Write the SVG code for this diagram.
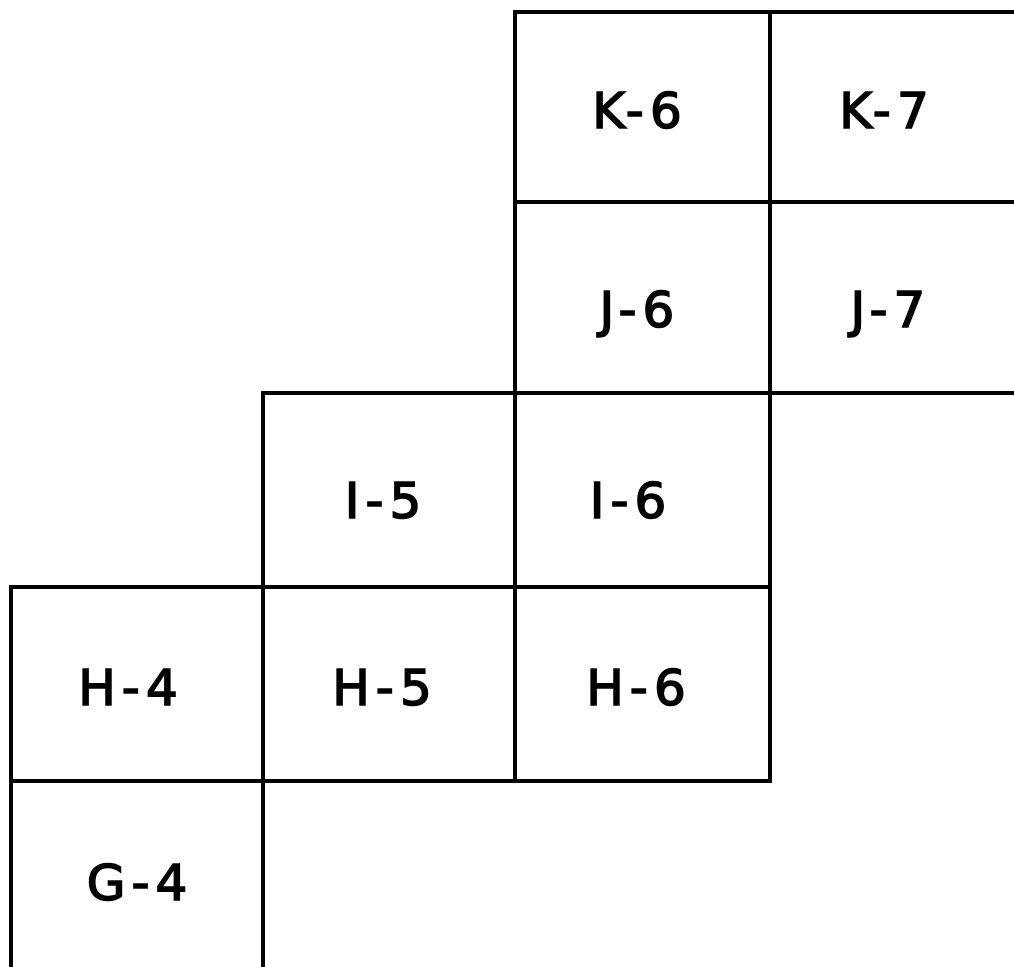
<svg xmlns="http://www.w3.org/2000/svg" width="1014" height="967" viewBox="0 0 1014 967">
<style>
.cell{fill:none;stroke:#000;stroke-width:4;stroke-linejoin:miter}
.lbl{font-family:"DejaVu Sans","Liberation Sans",sans-serif;font-size:50px;fill:#000;stroke:#000;stroke-width:1.6px;text-anchor:middle;letter-spacing:6px}
</style>
<rect width="1014" height="967" fill="#fff"/>
<g id="K-6"><rect class="cell" x="515" y="12" width="255" height="190"/><text class="lbl" x="640" y="128">K-6</text></g>
<g id="K-7"><rect class="cell" x="770" y="12" width="260" height="190"/><text class="lbl" x="887" y="128">K-7</text></g>
<g id="J-6"><rect class="cell" x="515" y="202" width="255" height="191"/><text class="lbl" x="640" y="327">J-6</text></g>
<g id="J-7"><rect class="cell" x="770" y="202" width="260" height="191"/><text class="lbl" x="891" y="327">J-7</text></g>
<g id="I-5"><rect class="cell" x="263" y="393" width="252" height="194"/><text class="lbl" x="386" y="518">I-5</text></g>
<g id="I-6"><rect class="cell" x="515" y="393" width="255" height="194"/><text class="lbl" x="631" y="518">I-6</text></g>
<g id="H-4"><rect class="cell" x="11" y="587" width="252" height="194"/><text class="lbl" x="131" y="705">H-4</text></g>
<g id="H-5"><rect class="cell" x="263" y="587" width="252" height="194"/><text class="lbl" x="385" y="705">H-5</text></g>
<g id="H-6"><rect class="cell" x="515" y="587" width="255" height="194"/><text class="lbl" x="639" y="705">H-6</text></g>
<g id="G-4"><rect class="cell" x="11" y="781" width="252" height="200"/><text class="lbl" x="140" y="900">G-4</text></g>
<g id="connectors"></g>
</svg>
